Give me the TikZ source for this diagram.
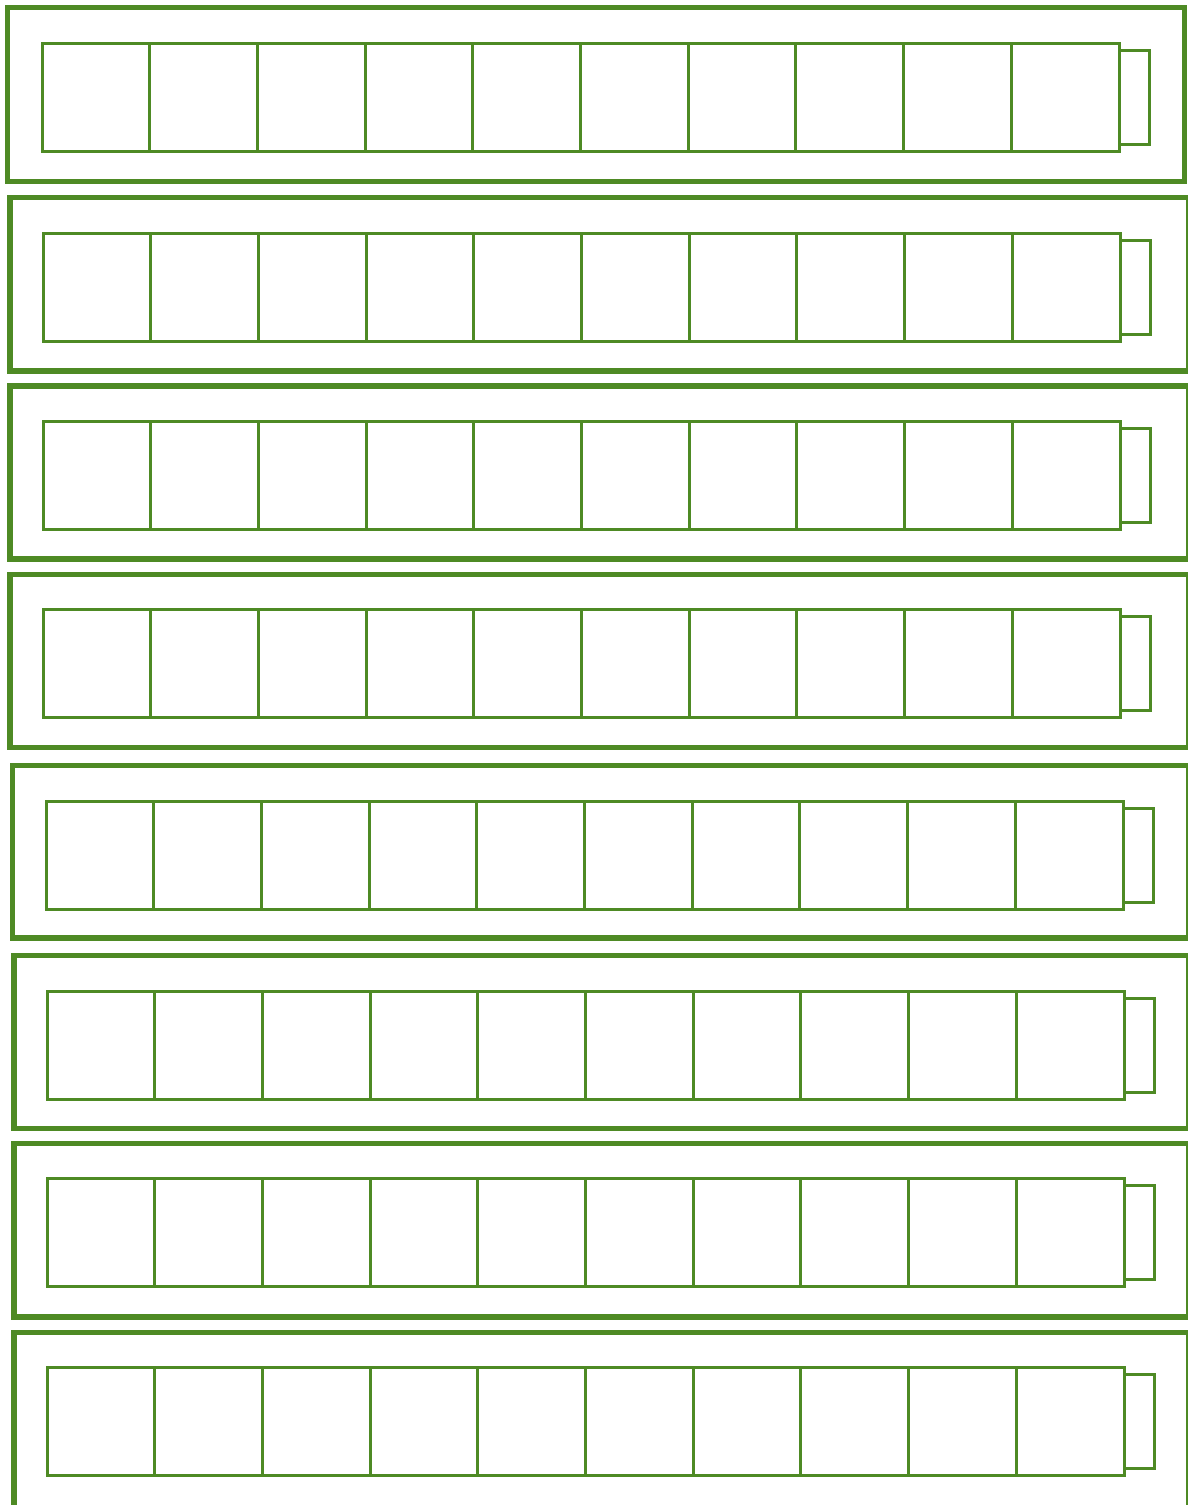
\documentclass[tikz,border=0pt]{standalone}
\usetikzlibrary{positioning}
\definecolor{stripgreen}{RGB}{78,138,36}

\begin{document}
\begin{tikzpicture}[x=1pt,y=-1pt,
    frame/.style={draw=stripgreen,line width=5.5pt},
    cell/.style={draw=stripgreen,line width=3pt,minimum width=107.7pt,minimum height=108pt,inner sep=0pt,outer sep=0pt},
    terminal/.style={draw=stripgreen,line width=3pt,minimum width=30pt,minimum height=94pt,inner sep=0pt,outer sep=0pt}]
    \useasboundingbox (0,0) rectangle (1188,1505);
    % one strip of ten cells in each frame
    \foreach \r/\fx/\fy/\fr/\fb/\sx/\sy in {1/7.5/7.5/1184.5/181.5/42/43, 2/10/197.5/1189/371/43/233,
                                          3/10/386/1189/559/43/421, 4/10/574.5/1189/747.5/43/609,
                                          5/12.5/765.5/1189/938/46/801, 6/14/955.5/1189/1128.5/47/991,
                                          7/14/1143.5/1189/1317/47/1178, 8/14/1332.5/1189/1512/47/1367}{
        \draw[frame] (\fx,\fy) rectangle (\fr,\fb);
        \node[cell,anchor=north west] (c\r-1) at (\sx,\sy) {};
        \foreach \c in {2,...,10}{
            \pgfmathtruncatemacro{\p}{\c-1}
            \node[cell,right=0pt of c\r-\p] (c\r-\c) {};
        }
        \node[terminal,right=0pt of c\r-10] (t\r) {};
    }
\end{tikzpicture}
\end{document}
